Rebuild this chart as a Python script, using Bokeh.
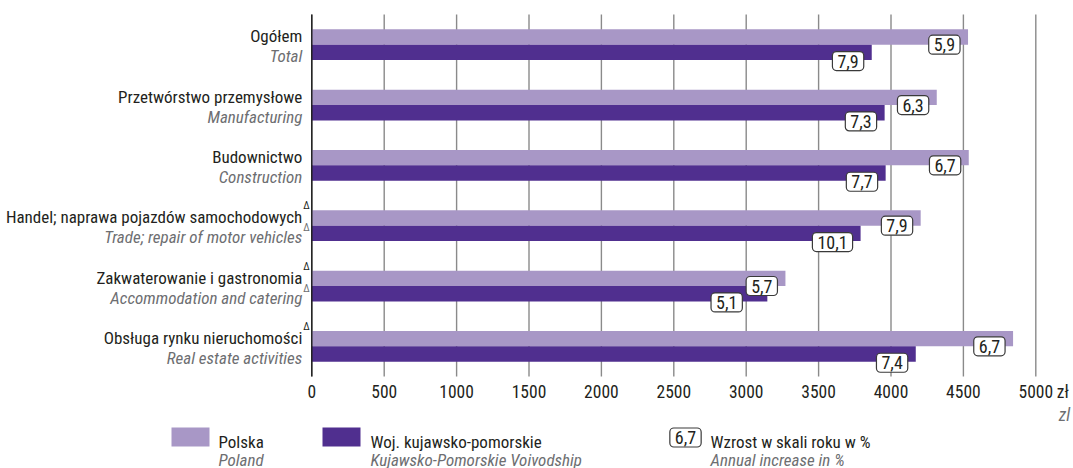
from bokeh.plotting import figure
from bokeh.models import Range1d, ColumnDataSource
from bokeh.embed import file_html
from bokeh.resources import INLINE
from bokeh.core.properties import value
from bokeh.transform import dodge

# ---------------- data ----------------
categories_pl = [
    "Ogółem",
    "Przetwórstwo przemysłowe",
    "Budownictwo",
    "Handel; naprawa pojazdów samochodowych",
    "Zakwaterowanie i gastronomia",
    "Obsługa rynku nieruchomości",
]
categories_en = [
    "Total",
    "Manufacturing",
    "Construction",
    "Trade; repair of motor vehicles",
    "Accommodation and catering",
    "Real estate activities",
]
delta_pl = [False, False, False, True, True, True]
delta_en = [False, False, False, True, True, False]

polska = [4532, 4316, 4537, 4205, 3271, 4843]
kujawsko = [3867, 3956, 3963, 3790, 3146, 4171]
growth_polska = ["5,9", "6,3", "6,7", "7,9", "5,7", "6,7"]
growth_kujawsko = ["7,9", "7,3", "7,7", "10,1", "5,1", "7,4"]

x_ticks = [0, 500, 1000, 1500, 2000, 2500, 3000, 3500, 4000, 4500, 5000]
x_tick_labels = ["0", "500", "1000", "1500", "2000", "2500", "3000", "3500", "4000", "4500", "5000"]

series_pl = ["Polska", "Woj. kujawsko-pomorskie", "Wzrost w skali roku w %"]
series_en = ["Poland", "Kujawsko-Pomorskie Voivodship", "Annual increase in %"]
legend_sample = ["6,7"]
unit_pl = ["zł"]
unit_en = ["zl"]

# ---------------- style / geometry ----------------
FONT = value("Roboto Condensed")
PL_COLOR = "#a897c6"
KJ_COLOR = "#502f8f"
TXT = "#231f20"
TXT_EN = "#6d6e71"
GRID = "#8a8a8a"
BAR_H = 0.255
kj_box_shift = [-8, -8, -8, -8, -25, -8]

ORIGIN = 0                   # page offset of the canvas
W, H = 1073, 468
X_ZERO_PAGE = 311.3          # page x of value 0
K = 724 / 5000               # px per zł
Y_TOP_GROUP_PAGE = 44.2      # page y of first group's bar boundary
GROUP_PX = 60.33             # px per group
BL = 6                       # correction for alphabetic baseline rendering

n = len(categories_pl)
pos = [n - 1 - i for i in range(n)]


def px(page_x):
    return (page_x - X_ZERO_PAGE) / K


def py(page_y):
    return (n - 1) - (page_y - Y_TOP_GROUP_PAGE) / GROUP_PX


p = figure(
    width=W, height=H,
    x_range=Range1d(px(ORIGIN), px(ORIGIN + W)), y_range=Range1d(py(ORIGIN + H), py(ORIGIN)),
    x_axis_type=None, y_axis_type=None,
    output_backend="svg", toolbar_location=None,
    min_border_left=0, min_border_right=0, min_border_top=0, min_border_bottom=0,
)
p.outline_line_color = None
p.grid.visible = False

# grid lines
p.segment(x0=x_ticks, x1=x_ticks, y0=py(376), y1=py(14), line_color=GRID, line_width=1.4)

src = ColumnDataSource(dict(
    pos=pos, polska=polska, kujawsko=kujawsko,
    gp=growth_polska, gk=growth_kujawsko, kshift=kj_box_shift,
))

p.hbar(y=dodge("pos", BAR_H / 2), left=0, right="polska", height=BAR_H,
       fill_color=PL_COLOR, line_color=None, source=src)
p.hbar(y=dodge("pos", -BAR_H / 2), left=0, right="kujawsko", height=BAR_H,
       fill_color=KJ_COLOR, line_color=None, source=src)

# zero axis line
p.segment(x0=[0], x1=[0], y0=py(376), y1=py(14), line_color="#1a1a1a", line_width=1.4)

box_style = dict(
    text_font=FONT, text_font_size="18px", text_color=TXT,
    background_fill_color="white", border_line_color="#3a3a3a",
    border_line_width=1.2, border_radius=4,
    padding=dict(left=5, right=5, top=3, bottom=3),
)
p.text(x="polska", y="pos", text="gp", x_offset=-8, y_offset=0,
       text_align="right", text_baseline="middle", source=src, **box_style)
p.text(x="kujawsko", y=dodge("pos", -BAR_H), text="gk", x_offset="kshift", y_offset=1,
       text_align="right", text_baseline="middle", source=src, **box_style)

# category labels
cat_src = ColumnDataSource(dict(pos=pos, pl=categories_pl, en=categories_en))
p.text(x=0, y="pos", text="pl", x_offset=-9.5, y_offset=-2.5 - BL, text_align="right",
       text_baseline="alphabetic", text_font=FONT, text_font_size="17px",
       text_color=TXT, source=cat_src)
p.text(x=0, y="pos", text="en", x_offset=-9.5, y_offset=17.5 - BL, text_align="right",
       text_baseline="alphabetic", text_font=FONT, text_font_style="italic",
       text_font_size="17px", text_color=TXT_EN, source=cat_src)
dpl = [pp for pp, d in zip(pos, delta_pl) if d]
den = [pp for pp, d in zip(pos, delta_en) if d]
p.text(x=0, y=dpl, text=["Δ"] * len(dpl), x_offset=-8.5, y_offset=-14 - BL, text_align="left",
       text_baseline="alphabetic", text_font=FONT, text_font_size="10.5px", text_color=TXT)
p.text(x=0, y=den, text=["Δ"] * len(den), x_offset=-8.5, y_offset=8 - BL, text_align="left",
       text_baseline="alphabetic", text_font=FONT, text_font_size="10.5px", text_color=TXT_EN)

# tick labels
p.text(x=x_ticks, y=py(397 - BL), text=x_tick_labels, text_align="center",
       text_baseline="alphabetic", text_font=FONT, text_font_size="17.5px", text_color=TXT)
# unit labels
p.text(x=[x_ticks[-1]], y=py(397 - BL), text=unit_pl, x_offset=21, text_align="left",
       text_baseline="alphabetic", text_font=FONT, text_font_size="17.5px", text_color=TXT)
p.text(x=[x_ticks[-1]], y=py(420 - BL), text=unit_en, x_offset=23, text_align="left",
       text_baseline="alphabetic", text_font=FONT, text_font_style="italic",
       text_font_size="17.5px", text_color=TXT_EN)

# legend
p.quad(left=[px(171), px(322)], right=[px(209), px(360)], top=py(427), bottom=py(446),
       fill_color=[PL_COLOR, KJ_COLOR], line_color=None)
leg_x = [px(218), px(370), px(710)]
p.text(x=leg_x, y=py(447 - BL), text=series_pl, text_baseline="alphabetic",
       text_font=FONT, text_font_size="17px", text_color=TXT)
p.text(x=leg_x, y=py(465 - BL), text=series_en, text_baseline="alphabetic",
       text_font=FONT, text_font_style="italic", text_font_size="17px", text_color=TXT_EN)
p.text(x=[px(685)], y=py(437), text=legend_sample, text_align="center",
       text_baseline="middle", **box_style)

open("out.html", "w").write(file_html(p, INLINE))
